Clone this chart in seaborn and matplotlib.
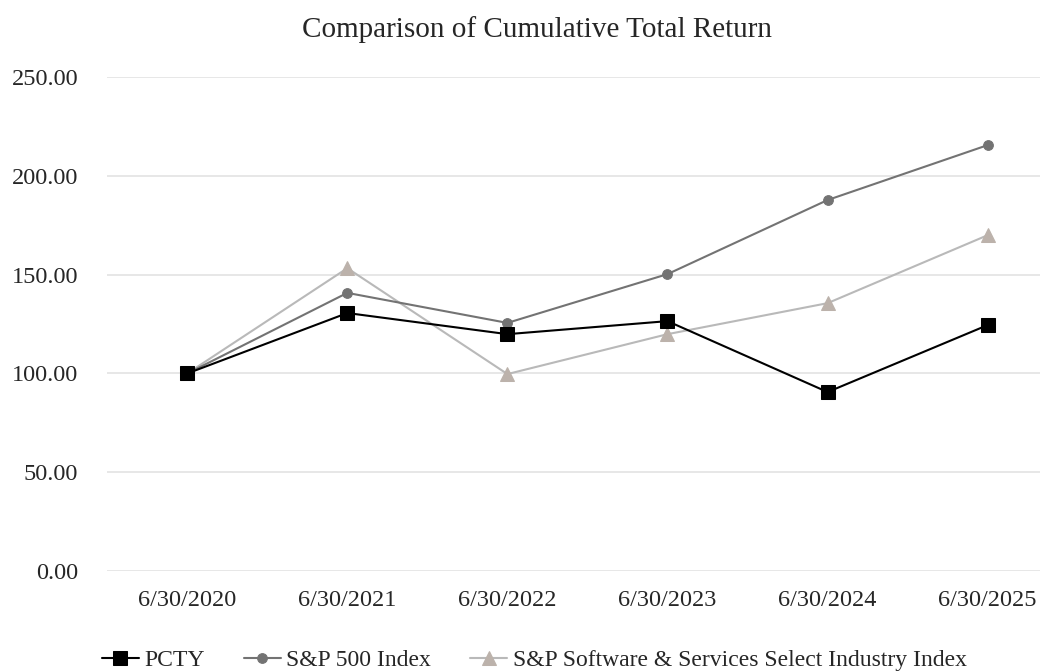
import pandas as pd
import numpy as np
import seaborn as sns
import matplotlib.pyplot as plt

# Dati
anni = ["6/30/2020", "6/30/2021", "6/30/2022", "6/30/2023", "6/30/2024", "6/30/2025"]
pcty = [100.00, 130.6, 119.9, 126.5, 90.6, 124.5]
sp500 = [100.00, 140.8, 125.6, 150.3, 187.8, 215.6]
software = [100.00, 153.3, 99.7, 119.9, 135.6, 170.0]

df = pd.DataFrame({"Data": anni, "PCTY": pcty, "S&P 500 Index": sp500,
                   "S&P Software & Services Select Industry Index": software})

sns.set_style("white")
plt.rcParams['font.family'] = ['Liberation Serif', 'DejaVu Serif']

fig = plt.figure(figsize=(10.51, 6.71), dpi=100)
ax = fig.add_axes([0.102, 0.149, 0.888, 0.736])

# serie: (colonna, colore linea, colore marker, marker, dimensione)
stili = [
    ("S&P Software & Services Select Industry Index", "#b9b9b9", "#bcb2ab", "^", 10),
    ("S&P 500 Index", "#737373", "#737373", "o", 7),
    ("PCTY", "#000000", "#000000", "s", 10),
]
for col, c_line, c_mark, m, ms in stili:
    sns.lineplot(data=df, x="Data", y=col, ax=ax, color=c_line, marker=m,
                 markersize=ms, markerfacecolor=c_mark, markeredgecolor=c_mark,
                 linewidth=1.5, label=col)

ax.set_ylim(0, 250)
ax.set_xlim(-0.5, 5.33)
ax.set_yticks(np.arange(0, 251, 50))
ax.set_yticklabels([f"{v:.2f}" for v in np.arange(0, 251, 50)], fontsize=17.5)
ax.tick_params(axis='x', labelsize=17.5, pad=13.5)
ax.tick_params(axis='y', pad=21)
ax.tick_params(length=0)
ax.set_xlabel("")
ax.set_ylabel("")
ax.grid(axis='y', color='#e3e3e3', linewidth=1.2)
ax.set_axisbelow(True)
for s in ax.spines.values():
    s.set_visible(False)

fig.suptitle("Comparison of Cumulative Total Return", fontsize=21, x=0.511, y=1 - 30/671, va='center')

# legenda in basso nell'ordine originale
h, l = ax.get_legend_handles_labels()
ax.get_legend().remove()
ordine = [2, 1, 0]
fig.legend([h[i] for i in ordine], [l[i] for i in ordine], loc='center left',
           bbox_to_anchor=(102/1051, 1 - 660/671), ncol=3, frameon=False, fontsize=17,
           borderpad=0, borderaxespad=0,
           handlelength=1.55, handletextpad=0.25, columnspacing=1.65)

fig.savefig("out.png", dpi=100)
